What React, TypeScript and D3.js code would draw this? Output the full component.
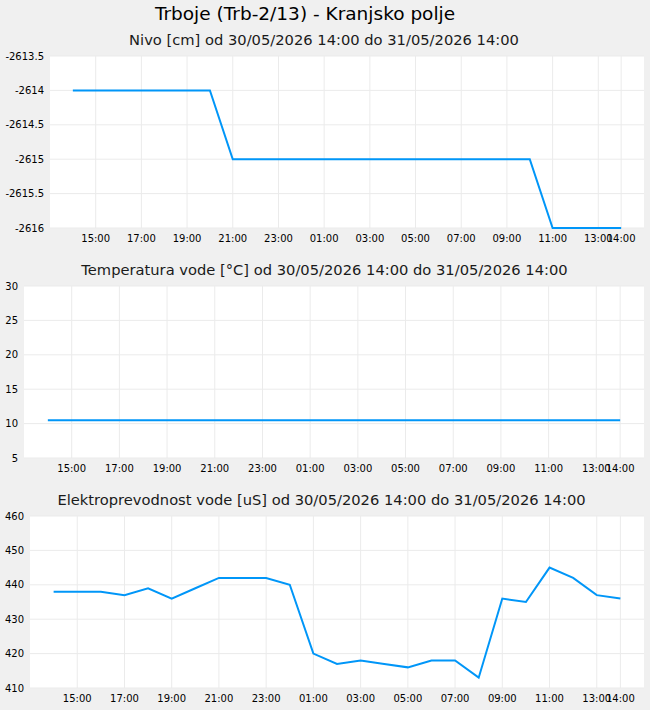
import React from "react";
import * as d3 from "d3";

const mainTitle = "Trboje (Trb-2/13) - Kranjsko polje";
const periodText = "od 30/05/2026 14:00 do 31/05/2026 14:00";
const startTime = "2026-05-30T14:00:00";
const domainStart = "2026-05-30T13:00:00";
const domainEnd = "2026-05-31T15:00:00";
const tickTimes = [
  "2026-05-30T15:00:00", "2026-05-30T17:00:00", "2026-05-30T19:00:00",
  "2026-05-30T21:00:00", "2026-05-30T23:00:00", "2026-05-31T01:00:00",
  "2026-05-31T03:00:00", "2026-05-31T05:00:00", "2026-05-31T07:00:00",
  "2026-05-31T09:00:00", "2026-05-31T11:00:00", "2026-05-31T13:00:00",
  "2026-05-31T14:00:00",
];

const nivoValues = [
  -2614, -2614, -2614, -2614, -2614, -2614, -2614,
  -2615, -2615, -2615, -2615, -2615, -2615, -2615, -2615, -2615, -2615, -2615, -2615, -2615, -2615,
  -2616, -2616, -2616, -2616,
];
const tempValues = [
  10.5, 10.5, 10.5, 10.5, 10.5, 10.5, 10.5, 10.5, 10.5, 10.5, 10.5, 10.5, 10.5,
  10.5, 10.5, 10.5, 10.5, 10.5, 10.5, 10.5, 10.5, 10.5, 10.5, 10.5, 10.5,
];
const epValues = [
  438, 438, 438, 437, 439, 436, 439, 442, 442, 442, 440, 420, 417,
  418, 417, 416, 418, 418, 413, 436, 435, 445, 442, 437, 436,
];

const nivoTicks = [-2613.5, -2614, -2614.5, -2615, -2615.5, -2616];
const tempTicks = [30, 25, 20, 15, 10, 5];
const epTicks = [460, 450, 440, 430, 420, 410];

const panels = [
  { name: "Nivo [cm]", values: nivoValues, ticks: nivoTicks, domain: [-2616, -2613.5], left: 50, top: 56, tx: 324 },
  { name: "Temperatura vode [°C]", values: tempValues, ticks: tempTicks, domain: [5, 30], left: 24, top: 286, tx: 324.5 },
  { name: "Elektroprevodnost vode [uS]", values: epValues, ticks: epTicks, domain: [410, 460], left: 30, top: 516, tx: 321.5 },
];

const W = 650;
const H = 710;
const RIGHT = 644;
const PH = 172;
const FONT = "'DejaVu Sans', sans-serif";
const LINE = "#0096f8";
const GRID = "#ebebeb";

const t0 = new Date(startTime).getTime();
const fmt = d3.timeFormat("%H:%M");

function Panel({ p }: { p: any }) {
  const x = d3.scaleTime().domain([new Date(domainStart), new Date(domainEnd)]).range([p.left, RIGHT]);
  const y = d3.scaleLinear().domain(p.domain).range([p.top + PH, p.top]);
  const pts: [Date, number][] = p.values.map((v: number, i: number) => [new Date(t0 + i * 3600000), v]);
  const line = d3.line<[Date, number]>().x((d) => x(d[0])).y((d) => y(d[1]));
  const ticks = tickTimes.map((s) => new Date(s));
  return (
    <g>
      <text x={p.tx} y={p.top - 11} textAnchor="middle" fontFamily={FONT} fontSize={14.7} fill="#1a1a1a">
        {p.name + " " + periodText}
      </text>
      <rect x={p.left} y={p.top} width={RIGHT - p.left} height={PH} fill="#ffffff" />
      {ticks.map((t, i) => (
        <line key={"gx" + i} x1={x(t)} x2={x(t)} y1={p.top} y2={p.top + PH} stroke={GRID} strokeWidth={1} />
      ))}
      {p.ticks.map((v: number, i: number) => (
        <line key={"gy" + i} x1={p.left} x2={RIGHT} y1={y(v)} y2={y(v)} stroke={GRID} strokeWidth={1} />
      ))}
      <path d={line(pts) || ""} fill="none" stroke={LINE} strokeWidth={2} />
      {p.ticks.map((v: number, i: number) => (
        <text key={"ty" + i} x={p.left - 6} y={y(v)} dy="0.35em" textAnchor="end" fontFamily={FONT} fontSize={10} fill="#000">
          {String(v)}
        </text>
      ))}
      {ticks.map((t, i) => (
        <text key={"tx" + i} x={x(t)} y={p.top + PH + 13.5} textAnchor="middle" fontFamily={FONT} fontSize={10} fill="#000">
          {fmt(t)}
        </text>
      ))}
    </g>
  );
}

export default function App() {
  return (
    <svg width={W} height={H} style={{ position: "absolute", left: 0, top: 0, display: "block" }}>
      <rect x={0} y={0} width={W} height={H} fill="#f0f0f0" />
      <text x={305} y={20} textAnchor="middle" fontFamily={FONT} fontSize={18.5} fill="#000">
        {mainTitle}
      </text>
      {panels.map((p, i) => (
        <Panel key={i} p={p} />
      ))}
    </svg>
  );
}
